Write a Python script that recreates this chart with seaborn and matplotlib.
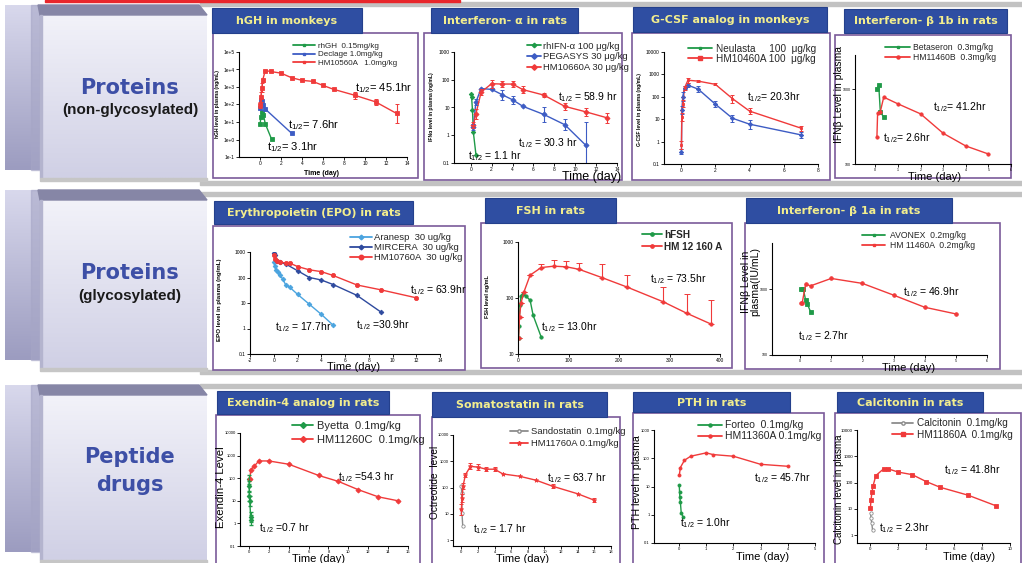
import numpy as np
import matplotlib
matplotlib.use("Agg")
import matplotlib.pyplot as plt
import seaborn as sns
from matplotlib.patches import Rectangle, Polygon
from matplotlib.lines import Line2D
from matplotlib.ticker import FixedLocator, FixedFormatter, NullLocator
from matplotlib.colors import to_rgb

# ---------------- data ----------------
# hGH in monkeys (day, ng/mL)
hgh_rhgh_t = [0.02, 0.08, 0.17, 0.33, 0.5, 1.1]
hgh_rhgh_v = [8, 20, 35, 25, 8, 1.05]
hgh_decl_t = [0.02, 0.08, 0.17, 0.33, 0.5, 3.0]
hgh_decl_v = [60, 180, 150, 90, 55, 2.3]
hgh_hm_t = [0.02, 0.08, 0.17, 0.25, 0.5, 1, 2, 3, 4, 5, 6, 7, 9, 11, 13]
hgh_hm_v = [91, 270, 900, 2400, 8700, 7700, 6200, 3400, 2400, 2100, 1230, 740, 340, 142, 31]
hgh_hm_f = [1.5, 2.0, 1.8, 1.2, 1.1, 1.1, 1, 1, 1, 1, 1, 1, 1.6, 1.5, 3.5]

# Interferon-alpha in rats
ifna_rh_t = [0.04, 0.08, 0.17, 0.25, 0.5]
ifna_rh_v = [31, 24, 8, 1.3, 0.2]
ifna_peg_t = [0.25, 0.5, 1, 2, 3, 4, 5, 7, 9, 11]
ifna_peg_v = [2, 16, 48, 45, 29, 19, 11, 5.6, 2.4, 0.44]
ifna_peg_f = [1.3, 1.3, 1, 1, 1.5, 1.4, 1, 1.9, 1.6, 7.0]
ifna_hm_t = [0.25, 0.5, 1, 2, 3, 4, 5, 7, 9, 11, 13]
ifna_hm_v = [2.3, 6, 36, 72, 70, 70, 44, 28, 11, 7, 4.3]
ifna_hm_f = [1.3, 1.5, 1.3, 1.4, 1.3, 1.3, 1.3, 1.2, 1.3, 1.4, 1.5]

# G-CSF analog in monkeys
gcsf_t = [0.02, 0.04, 0.1, 0.2, 0.4, 1, 2, 3, 4, 7]
gcsf_neu_v = [0.35, 25, 100, 260, 330, 220, 47, 11, 6, 2]
gcsf_neu_f = [1.3, 1.5, 1.6, 1.2, 1.2, 1.4, 1.4, 1.4, 1.6, 1.4]
gcsf_hm_v = [0.7, 12, 50, 250, 550, 500, 360, 83, 23, 4]
gcsf_hm_f = [1.5, 1.5, 1.5, 1.2, 1.3, 1.1, 1.1, 1.5, 1.4, 1.3]

# Interferon-beta 1b in rats
b1b_bet_t = [0.07, 0.15, 0.22, 0.37]
b1b_bet_v = [1000, 1130, 500, 420]
b1b_hm_t = [0.07, 0.1, 0.22, 0.37, 1, 2, 3, 4, 5]
b1b_hm_v = [232, 476, 500, 780, 635, 467, 257, 174, 136]

# Erythropoietin in rats
epo_ara_t = [0.02, 0.08, 0.17, 0.33, 0.5, 0.75, 1, 1.33, 2, 3, 4, 5]
epo_ara_v = [400, 290, 200, 160, 120, 89, 52, 42, 22, 8.9, 3.6, 1.35]
epo_mir_t = [0.02, 0.08, 0.25, 0.5, 1, 2, 3, 4, 5, 7, 9]
epo_mir_v = [900, 730, 460, 400, 340, 185, 100, 80, 53, 20, 4.5]
epo_hm_t = [0.02, 0.08, 0.25, 0.5, 1, 1.33, 2, 3, 4, 5, 7, 9, 12]
epo_hm_v = [730, 550, 460, 400, 370, 370, 270, 200, 170, 120, 51, 33, 16]

# FSH in rats (hours)
fsh_h_t = [1, 2, 4, 6, 10, 16, 24, 30, 46]
fsh_h_v = [19, 31, 75, 108, 120, 108, 91, 49, 20]
fsh_hm_t = [1, 3, 6, 12, 24, 46, 71, 96, 121, 167, 215, 287, 335, 383]
fsh_hm_v = [19, 46, 82, 130, 256, 350, 370, 360, 325, 230, 158, 86, 53, 34]
fsh_hm_hi = [19, 46, 82, 130, 256, 410, 470, 455, 425, 410, 256, 158, 120, 92]

# Interferon-beta 1a in rats
b1a_av_t = [0.02, 0.1, 0.18, 0.23, 0.34]
b1a_av_v = [990, 1020, 680, 600, 450]
b1a_hm_t = [0.02, 0.07, 0.18, 0.34, 1, 2, 3, 4, 5]
b1a_hm_v = [620, 620, 1180, 1120, 1450, 1220, 810, 530, 420]

# Exendin-4 analog in rats
ex_by_t = [0.01, 0.02, 0.04, 0.08, 0.17, 0.25]
ex_by_v = [90, 45, 16, 10, 2, 1.4]
ex_hm_t = [0.1, 0.17, 0.5, 1, 2, 4, 7, 9, 11, 13, 15]
ex_hm_v = [90, 235, 330, 580, 580, 415, 133, 72, 31, 15, 10]

# Somatostatin in rats
so_sa_t = [0.02, 0.04, 0.08, 0.17]
so_sa_v = [112, 60, 11, 3.5]
so_hm_t = [0.02, 0.08, 0.2, 0.5, 1.1, 2, 3, 4, 5, 7, 9, 11, 14, 16]
so_hm_v = [15, 40, 112, 310, 640, 600, 500, 500, 330, 270, 190, 112, 58, 33]
so_hm_f = [1.6, 1.4, 1.3, 1.2, 1.3, 1.3, 1.2, 1.2, 1, 1, 1, 1.2, 1, 1.2]

# PTH in rats
pth_fo_t = [0.01, 0.02, 0.03, 0.05, 0.08, 0.15]
pth_fo_v = [11, 6.4, 4.2, 2.8, 1.2, 0.83]
pth_hm_t = [0.01, 0.05, 0.2, 0.43, 1, 1.25, 2, 3, 4]
pth_hm_v = [25, 47, 85, 118, 155, 135, 118, 61, 52]

# Calcitonin in rats
ca_ca_t = [0.02, 0.05, 0.1, 0.17]
ca_ca_v = [7, 4.6, 3, 1.5]
ca_hm_t = [0.01, 0.05, 0.12, 0.2, 0.4, 0.95, 1.3, 2, 3, 4, 5, 7, 9]
ca_hm_v = [11, 21, 43, 75, 185, 330, 330, 250, 200, 109, 66, 33, 13]

row_titles = [("Proteins", "(non-glycosylated)"), ("Proteins", "(glycosylated)"), ("Peptide", "drugs")]

# ---------------- style ----------------
GREEN = "#1F9A48"
BLUE = "#3D5CC4"
RED = "#F03A3A"
LBLUE = "#4BA4DF"
DBLUE = "#2E4A9E"
GRAY = "#8C8C8C"
FRAME = "#7A5A9A"
TITLE_BG = "#2F4EA2"
TITLE_FG = "#F3EE8E"
SANS = "Liberation Sans"

sns.set_theme(style="white")
plt.rcParams["font.family"] = ["DejaVu Sans"]
plt.rcParams["mathtext.default"] = "regular"

W, H = 1022, 563
fig = plt.figure(figsize=(W / 100, H / 100), dpi=100)
fig.patch.set_facecolor("white")


def fx(x):
    return x / W


def fy(y):
    return 1 - y / H


bg = fig.add_axes([0, 0, 1, 1], zorder=0)
bg.set_xlim(0, W)
bg.set_ylim(H, 0)
bg.axis("off")


def grad(x0, x1, y0, y1, c_top, c_bot, z=1):
    a, b = np.array(to_rgb(c_top)), np.array(to_rgb(c_bot))
    s = np.linspace(0, 1, 64)[:, None, None]
    img = a[None, None, :] * (1 - s) + b[None, None, :] * s
    bg.imshow(img, extent=(x0, x1, y1, y0), origin="upper", aspect="auto", zorder=z,
              interpolation="bilinear")


# red line on top, gray row bands
bg.add_patch(Rectangle((45, 0), 415, 2.2, color="#E8262B", zorder=2))
for yb in [2, 181, 192, 370, 384]:
    bg.add_patch(Rectangle((200, yb), 822, 3.5, color="#C2C2C2", zorder=1))

# left 3D boxes
for (top, bot), (t1, t2) in zip([(5, 178), (190, 368), (385, 560)], row_titles):
    grad(5, 40, top, bot - 8, "#D8D8EC", "#9C9CC0", z=2)
    bg.add_patch(Rectangle((31, top), 9, bot - 8 - top, color="#A6A6C6", alpha=0.6, zorder=3))
    bg.add_patch(Polygon([(38, top), (199, top), (207, top + 10), (40, top + 10)],
                         closed=True, color="#8686A6", zorder=4))
    grad(40, 207, top + 10, bot, "#F2F2F9", "#D0D0E5", z=3)
    bg.add_patch(Rectangle((40, top + 10), 1.5, bot - top - 10, color="#B4B4CE", zorder=4))
    bg.add_patch(Rectangle((40, bot), 167, 3, color="#C6C6C6", zorder=4))

fig.text(fx(130), fy(88), "Proteins", ha="center", va="center", fontsize=15,
         fontweight="bold", color="#3D4FA6", family="DejaVu Sans")
fig.text(fx(130), fy(110), "(non-glycosylated)", ha="center", va="center", fontsize=11,
         fontweight="bold", color="#1A1A1A", family=SANS)
fig.text(fx(130), fy(273), "Proteins", ha="center", va="center", fontsize=15,
         fontweight="bold", color="#3D4FA6", family="DejaVu Sans")
fig.text(fx(130), fy(296), "(glycosylated)", ha="center", va="center", fontsize=11,
         fontweight="bold", color="#1A1A1A", family=SANS)
fig.text(fx(130), fy(457), "Peptide", ha="center", va="center", fontsize=15,
         fontweight="bold", color="#3D4FA6", family="DejaVu Sans")
fig.text(fx(130), fy(485), "drugs", ha="center", va="center", fontsize=15,
         fontweight="bold", color="#3D4FA6", family="DejaVu Sans")

# panel frames and title boxes
frames = [(213, 33, 418, 178), (424, 33, 622, 180), (632, 33, 830, 180), (835, 35, 1011, 178),
          (213, 226, 465, 370), (481, 223, 732, 368), (745, 223, 1000, 369),
          (216, 415, 420, 566), (432, 417, 620, 566), (633, 413, 824, 566), (835, 413, 1021, 566)]
for (l, t, r, b) in frames:
    bg.add_patch(Rectangle((l, t), r - l, b - t, facecolor="white", edgecolor=FRAME,
                           linewidth=1.2, zorder=5))

titles = [("hGH in monkeys", (212, 8, 362, 33)),
          ("Interferon- α in rats", (431, 8, 578, 33)),
          ("G-CSF analog in monkeys", (633, 7, 827, 32)),
          ("Interferon- β 1b in rats", (844, 9, 1007, 33)),
          ("Erythropoietin (EPO) in rats", (214, 201, 413, 224)),
          ("FSH in rats", (485, 198, 616, 223)),
          ("Interferon- β 1a in rats", (746, 198, 952, 223)),
          ("Exendin-4 analog in rats", (217, 391, 389, 414)),
          ("Somatostatin in rats", (432, 392, 607, 417)),
          ("PTH in rats", (633, 392, 790, 412)),
          ("Calcitonin in rats", (837, 392, 983, 412))]
for txt, (l, t, r, b) in titles:
    bg.add_patch(Rectangle((l, t), r - l, b - t, facecolor=TITLE_BG, edgecolor="#24408C",
                           linewidth=0.8, zorder=6))
    fig.text(fx((l + r) / 2), fy((t + b) / 2 + 0.5), txt, ha="center", va="center",
             fontsize=8, fontweight="bold", color=TITLE_FG, family="DejaVu Sans")


# ---------------- helpers ----------------
def make_ax(l, r, t, b, tick_fs=3.5):
    ax = fig.add_axes([fx(l), fy(b), (r - l) / W, (b - t) / H], zorder=3)
    ax.patch.set_alpha(0)
    for s in ["top", "right"]:
        ax.spines[s].set_visible(False)
    for s in ["left", "bottom"]:
        ax.spines[s].set_color("black")
        ax.spines[s].set_linewidth(0.8)
    ax.tick_params(axis="both", which="major", direction="out", length=2, width=0.6,
                   labelsize=tick_fs, pad=1, colors="black", left=True, bottom=True)
    ax.grid(False)
    return ax


def finish(ax, xlim, xticks, ylim, yticks, ylabels, xlabels=None):
    ax.set_yscale("log")
    ax.set_xlim(*xlim)
    ax.set_ylim(*ylim)
    ax.xaxis.set_major_locator(FixedLocator(xticks))
    ax.xaxis.set_major_formatter(FixedFormatter(xlabels if xlabels else [str(v) for v in xticks]))
    ax.yaxis.set_major_locator(FixedLocator(yticks))
    ax.yaxis.set_major_formatter(FixedFormatter(ylabels))
    ax.yaxis.set_minor_locator(NullLocator())
    ax.xaxis.set_minor_locator(NullLocator())
    for lab in ax.get_xticklabels() + ax.get_yticklabels():
        lab.set_family(SANS)
    ax.set_xlabel("")
    ax.set_ylabel("")


def series(ax, t, v, color, marker="o", ms=2.8, lw=1.0, mfc=None):
    sns.lineplot(x=t, y=v, ax=ax, color=color, marker=marker, markersize=ms, linewidth=lw,
                 markeredgecolor=color, markerfacecolor=mfc if mfc else color,
                 markeredgewidth=0.6, estimator=None, sort=False, legend=False)


def errs(ax, t, v, f, color):
    t = np.asarray(t, float); v = np.asarray(v, float); f = np.asarray(f, float)
    m = f > 1.0
    lo = v[m] - v[m] / f[m]
    hi = v[m] * f[m] - v[m]
    ax.errorbar(t[m], v[m], yerr=[lo, hi], fmt="none", ecolor=color, elinewidth=0.8,
                capsize=1.6, capthick=0.7)


def legend(ax, specs, x0, yc, row, fs, hl_px, gap_px, weight="normal"):
    fspx = fs * 100 / 72
    handles = [Line2D([], [], color=c, marker=m, ms=ms, lw=1.3, mec=c,
                      mfc=(mf if mf else c)) for (_, c, m, ms, mf) in specs]
    labels = [s[0] for s in specs]
    ax.legend(handles, labels, loc="upper left",
              bbox_to_anchor=(fx(x0), fy(yc - fspx * 0.55)), bbox_transform=fig.transFigure,
              frameon=False, borderpad=0, borderaxespad=0, handlelength=hl_px / fspx,
              handletextpad=gap_px / fspx, labelspacing=max(row - fspx * 1.1, 0) / fspx,
              prop={"family": SANS, "size": fs, "weight": weight})


def half(x, y, val, fs=7.5):
    fig.text(fx(x), fy(y), r"$\mathregular{t_{1/2}}$" + val, ha="left", va="center",
             fontsize=fs, family=SANS, color="black")


def ylab(x, y, txt, fs, weight="normal"):
    fig.text(fx(x), fy(y), txt, rotation=90, ha="center", va="center", fontsize=fs,
             family=SANS, color="black", fontweight=weight, linespacing=0.9)


def xlab(x, y, txt="Time (day)", fs=8, weight="normal"):
    fig.text(fx(x), fy(y), txt, ha="center", va="center", fontsize=fs, family=SANS,
             color="black", fontweight=weight)


dec = [0.1, 1, 10, 100, 1000, 10000, 100000]
dec_lab = ["0.1", "1", "10", "100", "1000", "10000", "100000"]

# ---------------- 1 hGH ----------------
ax = make_ax(239, 407, 52, 157)
series(ax, hgh_rhgh_t, hgh_rhgh_v, GREEN, "s", 2.2)
series(ax, hgh_decl_t, hgh_decl_v, BLUE, "s", 2.2)
series(ax, hgh_hm_t, hgh_hm_v, RED, "s", 2.2)
errs(ax, hgh_hm_t, hgh_hm_v, hgh_hm_f, RED)
finish(ax, (-2, 14), list(range(0, 15, 2)), (0.1, 1e5), dec[:7],
       ["1e-1", "1e+0", "1e+1", "1e+2", "1e+3", "1e+4", "1e+5"])
legend(ax, [("rhGH  0.15mg/kg", GREEN, "s", 2, None), ("Declage 1.0mg/kg", BLUE, "s", 2, None),
            ("HM10560A   1.0mg/kg", RED, "s", 2, None)], 293, 47, 9.5, 5.8, 22, 3)
half(355, 88, "= 45.1hr", 8)
half(288, 125, "= 7.6hr", 8)
half(267, 147, "= 3.1hr", 8)
ylab(218, 104, "hGH level in plasma (ng/mL)", 3.6, "bold")
xlab(322, 173, "Time (day)", 5, "bold")

# ---------------- 2 IFN-alpha ----------------
ax = make_ax(454, 617, 52, 163)
series(ax, ifna_rh_t, ifna_rh_v, GREEN, "D", 2.3)
series(ax, ifna_peg_t, ifna_peg_v, BLUE, "D", 2.6)
series(ax, ifna_hm_t, ifna_hm_v, RED, "D", 2.6)
errs(ax, ifna_peg_t, ifna_peg_v, ifna_peg_f, BLUE)
errs(ax, ifna_hm_t, ifna_hm_v, ifna_hm_f, RED)
finish(ax, (-1.6, 14), list(range(0, 15, 2)), (0.1, 1000), dec[:5], dec_lab[:5])
legend(ax, [("rhIFN-α 100 μg/kg", GREEN, "D", 2.3, None), ("PEGASYS 30 μg/kg", BLUE, "D", 2.8, None),
            ("HM10660A 30 μg/kg", RED, "D", 2.8, None)], 527, 47, 12, 6.8, 14, 2)
half(558, 97, " = 58.9 hr")
half(518, 143, " = 30.3 hr")
half(468, 156, " = 1.1 hr")
ylab(431, 107, "IFNα level in plasma (ng/mL)", 3.6, "bold")
xlab(592, 177, "Time (day)", 9)

# ---------------- 3 G-CSF ----------------
ax = make_ax(664, 818, 52, 164)
series(ax, gcsf_t, gcsf_neu_v, BLUE, "D", 2.2)
series(ax, gcsf_t, gcsf_hm_v, RED, "s", 2.0)
errs(ax, gcsf_t, gcsf_neu_v, gcsf_neu_f, BLUE)
errs(ax, gcsf_t, gcsf_hm_v, gcsf_hm_f, RED)
finish(ax, (-1, 8), [0, 2, 4, 6, 8], (0.1, 1e4), dec[:6], dec_lab[:6])
legend(ax, [("Neulasta     100  μg/kg", GREEN, "s", 2, None),
            ("HM10460A 100  μg/kg", RED, "s", 3.5, None)], 688, 49, 11, 7.2, 24, 4)
half(747, 97, "= 20.3hr")
ylab(640, 110, "G-CSF level in plasma (ng/mL)", 3.6, "bold")

# ---------------- 4 IFN-beta 1b ----------------
ax = make_ax(855, 1011, 55, 164, tick_fs=2.6)
series(ax, b1b_bet_t, b1b_bet_v, GREEN, "s", 2.2)
series(ax, b1b_hm_t, b1b_hm_v, RED, "o", 2.4)
finish(ax, (-0.9, 6), list(range(0, 7)), (100, 2850), [100, 1000], ["100", "1000"])
legend(ax, [("Betaseron  0.3mg/kg", GREEN, "s", 2, None),
            ("HM11460B  0.3mg/kg", RED, "o", 2.2, None)], 885, 48, 10, 6.2, 25, 3)
half(933, 107, "= 41.2hr")
half(883, 138, "= 2.6hr")
ylab(838.5, 95, "IFNβ Level in plasma", 7.4)
xlab(935, 177, "Time (day)", 8)

# ---------------- 5 EPO ----------------
ax = make_ax(250, 440, 252, 354)
series(ax, epo_ara_t, epo_ara_v, LBLUE, "D", 2.4)
series(ax, epo_mir_t, epo_mir_v, DBLUE, "D", 2.4)
series(ax, epo_hm_t, epo_hm_v, RED, "o", 3.0)
finish(ax, (-2, 14), list(range(-2, 15, 2)), (0.1, 1000), dec[:5], dec_lab[:5])
legend(ax, [("Aranesp  30 ug/kg", LBLUE, "D", 2.4, None), ("MIRCERA  30 ug/kg", DBLUE, "D", 2.4, None),
            ("HM10760A  30 ug/kg", RED, "o", 3.2, None)], 350, 238, 11.5, 6.8, 22, 2)
half(410, 290, " = 63.9hr")
half(356, 325, " =30.9hr")
half(275, 327, " = 17.7hr")
ylab(220, 300, "EPO level in plasma (ng/mL)", 4.4, "bold")
xlab(354, 367, "Time (day)", 8)

# ---------------- 6 FSH ----------------
ax = make_ax(518, 720, 242, 354)
series(ax, fsh_h_t, fsh_h_v, GREEN, "o", 2.4)
series(ax, fsh_hm_t, fsh_hm_v, RED, "o", 2.4)
fh = np.asarray(fsh_hm_hi, float) - np.asarray(fsh_hm_v, float)
ax.errorbar(fsh_hm_t, fsh_hm_v, yerr=[np.zeros_like(fh), fh], fmt="none", ecolor=RED,
            elinewidth=0.8, capsize=2.0, capthick=0.7)
finish(ax, (0, 400), [0, 100, 200, 300, 400], (10, 1000), [10, 100, 1000], ["10", "100", "1000"])
legend(ax, [("hFSH", GREEN, "o", 2.4, None), ("HM 12 160 A", RED, "o", 2.4, None)],
       642, 235, 13, 7.2, 20, 2, weight="bold")
half(650, 279, " = 73.5hr")
half(541, 327, " = 13.0hr")
ylab(487, 297, "FSH level ng/mL", 4.0, "bold")

# ---------------- 7 IFN-beta 1a ----------------
ax = make_ax(772, 987, 243, 355, tick_fs=2.6)
series(ax, b1a_av_t, b1a_av_v, GREEN, "s", 2.2)
series(ax, b1a_hm_t, b1a_hm_v, RED, "o", 2.6)
finish(ax, (-0.9, 6), list(range(0, 7)), (100, 5000), [100, 1000], ["100", "1000"])
legend(ax, [("AVONEX  0.2mg/kg", GREEN, "s", 2, None),
            ("HM 11460A  0.2mg/kg", RED, "s", 2, None)], 862, 236, 10, 6.2, 23, 5)
half(903, 292, " = 46.9hr")
half(798, 336, " = 2.7hr")
ylab(751, 282, "IFNβ Level in\nplasma(IU/mL)", 7.6)
xlab(909, 368, "Time (day)", 8)

# ---------------- 8 Exendin-4 ----------------
ax = make_ax(240, 408, 433, 546, tick_fs=3.0)
series(ax, ex_by_t, ex_by_v, GREEN, "D", 2.4)
series(ax, ex_hm_t, ex_hm_v, RED, "D", 2.6)
ax.errorbar(ex_by_t, ex_by_v, yerr=[np.asarray(ex_by_v) * 0.4, np.asarray(ex_by_v) * 0.6],
            fmt="none", ecolor=GREEN, elinewidth=0.8, capsize=1.5)
finish(ax, (-0.9, 16), list(range(0, 17, 2)), (0.1, 1e4), dec[:6], dec_lab[:6])
legend(ax, [("Byetta  0.1mg/kg", GREEN, "D", 3, None),
            ("HM11260C  0.1mg/kg", RED, "D", 3, None)], 292, 427, 16, 8, 21, 4)
half(338, 477, " =54.3 hr")
half(259, 528, " =0.7 hr")
ylab(221, 487, "Exendin-4 Level", 8.2)
xlab(319, 559, "Time (day)", 8)

# ---------------- 9 Somatostatin ----------------
ax = make_ax(453, 611, 435, 546, tick_fs=3.0)
series(ax, so_sa_t, so_sa_v, GRAY, "o", 2.4, mfc="white")
series(ax, so_hm_t, so_hm_v, RED, "*", 3.2)
errs(ax, so_hm_t, so_hm_v, so_hm_f, RED)
finish(ax, (-1, 18), list(range(0, 19, 2)), (0.6, 1e4), [1, 10, 100, 1000, 10000],
       ["1", "10", "100", "1000", "10000"])
legend(ax, [("Sandostatin  0.1mg/kg", GRAY, "o", 2.4, "white"),
            ("HM11760A 0.1mg/kg", RED, "*", 3.2, None)], 510, 432, 14, 6.8, 18, 3)
half(547, 478, " = 63.7 hr")
half(473, 529, " = 1.7 hr")
ylab(435, 482, "Octreotide  level", 7.3)
xlab(523, 559, "Time (day)", 8)

# ---------------- 10 PTH ----------------
ax = make_ax(654, 815, 430, 543, tick_fs=3.0)
series(ax, pth_fo_t, pth_fo_v, GREEN, "o", 2.2)
series(ax, pth_hm_t, pth_hm_v, RED, "o", 2.2)
finish(ax, (-0.92, 5), list(range(0, 6)), (0.1, 1000), dec[:5], dec_lab[:5])
legend(ax, [("Forteo  0.1mg/kg", GREEN, "o", 2.2, None),
            ("HM11360A 0.1mg/kg", RED, "o", 2.2, None)], 698, 426, 12.5, 7.5, 24, 3)
half(754, 478, " = 45.7hr")
half(680, 523, " = 1.0hr")
ylab(636.5, 482, "PTH level in plasma", 7.6)
xlab(763, 557, "Time (day)", 8)

# ---------------- 11 Calcitonin ----------------
ax = make_ax(857, 1010, 430, 543, tick_fs=3.2)
series(ax, ca_ca_t, ca_ca_v, GRAY, "o", 2.4, mfc="white")
series(ax, ca_hm_t, ca_hm_v, RED, "s", 2.4)
finish(ax, (-0.95, 10), [0, 2, 4, 6, 8, 10], (0.5, 1e4), [1, 10, 100, 1000, 10000],
       ["1", "10", "100", "1000", "10000"])
legend(ax, [("Calcitonin  0.1mg/kg", GRAY, "o", 2.4, "white"),
            ("HM11860A  0.1mg/kg", RED, "s", 2.6, None)], 892, 424, 12, 7.2, 21, 4)
half(944, 470, " = 41.8hr")
half(879, 528, " = 2.3hr")
ylab(838.5, 489, "Calcitonin level in plasma", 7.0)
xlab(969, 557.5, "Time (day)", 7.8)

fig.savefig("out.png", dpi=100, facecolor="white")
